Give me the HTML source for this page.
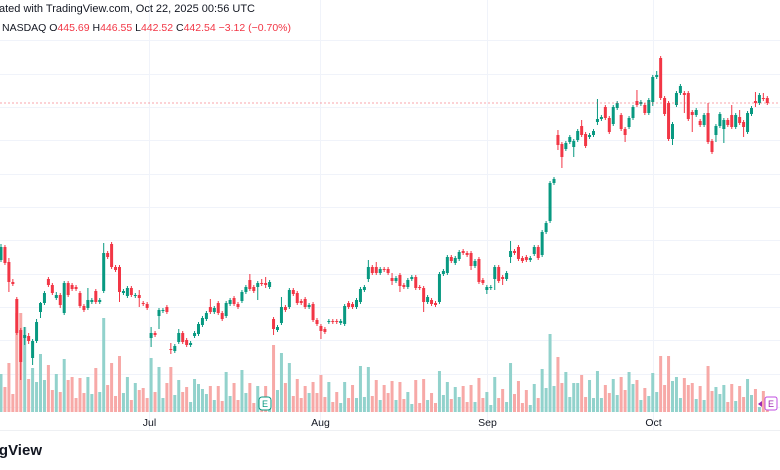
<!DOCTYPE html>
<html><head><meta charset="utf-8">
<style>
html,body{margin:0;padding:0;background:#fff;width:780px;height:470px;overflow:hidden}
svg{display:block;font-family:"Liberation Sans",sans-serif}
</style></head>
<body>
<svg id="chart" width="780" height="470" viewBox="0 0 780 470">
<g id="grid"></g>
<g id="vol"></g>
<g id="candles"></g>
<line id="priceline" x1="0" x2="780" stroke="#f23645" stroke-opacity="0.45" stroke-dasharray="2,2" stroke-width="1"/>
<line x1="0" x2="780" y1="430.5" y2="430.5" stroke="#eef0f3"/>
<g id="xaxis"></g>
<text x="-1" y="12" font-size="11" fill="#131722">ated with TradingView.com, Oct 22, 2025 00:56 UTC</text>
<text x="2" y="31" font-size="10.5" fill="#131722">NASDAQ  O<tspan fill="#f23645">445.69</tspan>  H<tspan fill="#f23645">446.55</tspan>  L<tspan fill="#f23645">442.52</tspan>  C<tspan fill="#f23645">442.54</tspan>  <tspan fill="#f23645">−3.12 (−0.70%)</tspan></text>
<text x="42" y="455" text-anchor="end" font-size="15" font-weight="bold" fill="#131722">TradingView</text>
<g><rect x="259" y="397" width="12" height="13" rx="3" fill="#fff" stroke="#089981"/><text x="265" y="407" font-size="9" text-anchor="middle" fill="#089981">E</text></g>
<g><rect x="765" y="397" width="12" height="13" rx="2" fill="#fff" stroke="#c04ce0"/><text x="771" y="407" font-size="9" text-anchor="middle" fill="#9c27b0">E</text><path d="M758 404 l4 -3 v6 z" fill="#9c27b0"/></g>
</svg>
<script>
const opens=[394.1,398.0,393.5,387.5,382.4,373.1,370.7,371.3,364.7,369.8,378.5,381.2,388.4,386.6,382.7,383.6,378.2,387.2,386.6,386.0,384.2,380.3,379.7,381.5,384.8,381.5,384.8,396.2,398.9,392.0,392.0,384.2,383.3,385.7,383.3,383.6,381.2,380.9,370.7,372.2,377.3,378.8,380.0,367.4,366.8,369.5,372.2,370.1,368.6,371.3,371.9,374.6,376.4,380.0,378.5,381.2,378.2,377.3,380.9,382.7,380.9,381.8,384.5,388.1,386.0,386.0,387.2,387.2,386.0,376.4,373.1,375.2,380.0,380.0,385.1,384.2,381.8,382.4,380.0,380.9,376.1,374.3,373.4,375.5,375.8,375.8,375.2,374.9,381.2,380.9,380.0,381.5,385.1,388.4,392.0,392.0,390.2,391.4,391.4,388.7,387.8,389.6,386.6,386.0,388.4,389.0,386.0,385.7,381.5,382.1,381.2,381.5,389.9,390.2,395.0,393.2,394.4,396.8,396.2,396.2,392.3,394.4,388.1,385.1,385.7,388.4,392.0,389.0,388.4,395.0,396.8,398.0,394.7,395.0,394.1,395.9,398.0,395.6,402.5,405.8,417.2,431.6,428.9,427.4,429.5,428.0,430.1,434.3,431.9,431.0,431.6,435.5,436.4,440.0,436.7,434.9,439.7,437.6,433.4,434.0,436.7,441.8,440.9,440.6,438.2,441.5,449.0,454.7,442.7,441.2,430.4,440.6,444.2,444.2,444.2,438.5,437.6,435.8,434.6,438.2,429.8,431.6,434.3,433.4,436.1,437.6,434.0,437.0,435.5,432.5,437.9,441.8,441.2,442.7,442.7];
const highs=[398.9,398.6,394.7,388.4,383.0,373.7,374.0,372.2,370.4,376.4,381.5,384.8,389.0,387.2,384.5,384.2,387.8,387.8,387.2,386.6,384.8,380.9,385.7,382.7,385.4,382.7,399.2,396.8,399.5,392.6,392.6,385.4,386.3,386.3,384.2,385.1,381.8,381.5,374.0,372.8,379.7,379.7,380.6,369.2,368.9,373.4,372.8,370.7,369.8,372.8,375.5,377.3,378.8,382.4,380.3,381.8,378.8,381.8,382.7,383.3,381.5,385.1,386.6,389.9,386.6,387.8,388.4,389.0,388.1,377.0,374.6,383.0,380.6,385.7,385.7,384.8,382.4,383.0,381.2,381.5,376.7,374.9,374.0,376.4,376.4,376.4,376.4,380.9,381.8,381.5,382.7,386.0,386.6,394.1,392.6,393.5,392.0,392.0,392.0,390.2,389.3,390.2,387.2,388.7,389.6,389.6,386.6,386.3,383.6,382.7,381.8,390.5,391.4,395.6,395.6,395.3,397.1,397.4,396.8,396.8,394.4,395.0,388.7,386.6,386.6,392.6,392.6,389.6,390.8,399.8,397.4,398.6,395.3,395.6,395.3,398.6,398.6,403.1,405.8,417.8,419.0,433.1,429.5,429.8,431.6,430.4,433.4,436.1,432.5,432.2,433.4,442.4,437.6,440.6,437.3,440.6,441.8,438.2,434.0,437.3,440.6,445.1,442.1,441.2,442.7,449.6,450.8,455.3,443.3,441.8,435.5,444.8,446.9,444.8,444.8,439.1,439.7,436.4,438.2,441.2,430.4,434.9,438.5,436.7,436.7,440.6,438.2,439.1,436.1,438.8,440.3,444.5,444.2,444.2,443.3];
const lows=[393.5,392.6,384.5,386.3,371.6,358.1,368.6,368.9,362.6,369.2,376.7,380.6,386.0,383.6,382.1,379.7,377.6,383.0,384.8,384.8,379.7,378.5,379.1,380.9,380.9,380.9,384.2,394.4,391.4,390.5,381.5,383.6,382.7,383.0,382.7,380.0,380.3,379.1,368.0,371.0,373.4,378.2,377.9,365.9,366.2,368.9,368.9,368.0,368.0,370.7,371.3,374.0,375.8,377.9,377.9,377.6,375.8,376.7,380.3,380.3,379.4,381.2,383.9,384.8,384.2,382.1,386.3,385.7,385.4,371.6,372.5,374.6,378.5,379.4,383.3,380.6,380.6,379.4,379.4,375.5,374.3,370.4,371.9,374.9,374.9,374.9,374.6,374.3,379.4,379.4,379.4,380.9,384.5,387.5,389.6,389.6,389.6,390.5,389.6,386.6,387.2,384.5,385.4,385.4,387.8,385.1,385.1,378.5,380.9,380.3,380.0,380.9,389.3,389.6,393.2,392.6,393.8,395.6,395.0,391.1,391.7,386.9,386.6,383.9,385.1,385.1,387.2,386.6,387.8,393.2,395.6,393.8,393.2,393.5,393.5,395.3,394.1,395.0,401.9,405.2,416.6,427.1,421.7,426.8,428.9,425.0,429.5,431.0,427.7,430.4,431.0,434.6,435.8,436.1,431.9,434.3,439.1,432.8,429.5,433.4,436.1,440.0,440.3,437.6,437.6,440.3,448.4,442.1,437.3,429.8,428.6,440.0,443.6,438.2,435.8,432.5,437.0,434.0,434.0,428.9,425.9,429.5,433.7,429.2,434.0,433.4,433.4,434.6,431.0,431.9,437.3,440.0,440.6,441.8,440.6];
const closes=[398.0,393.2,387.5,386.9,372.2,363.5,371.6,369.8,369.8,375.5,381.2,384.2,386.6,384.2,383.6,380.6,387.2,383.6,385.4,385.4,380.3,379.1,382.1,382.1,381.5,382.1,396.2,395.0,392.0,391.1,384.5,384.8,385.7,383.6,383.6,382.7,380.9,379.7,372.2,371.6,379.1,379.1,378.5,367.1,368.3,372.2,369.5,368.6,369.2,372.2,374.9,376.7,378.2,378.5,379.7,378.2,376.4,381.2,382.1,380.9,380.0,384.5,386.0,385.4,384.8,387.2,386.9,386.6,387.5,373.4,374.0,380.0,379.1,385.1,383.9,381.2,381.2,380.0,380.6,376.1,374.9,372.8,372.5,375.8,375.5,375.5,375.8,380.3,380.0,380.0,382.1,385.4,386.0,392.0,390.2,390.2,391.4,391.1,390.2,387.8,388.7,386.3,386.0,388.1,389.0,385.7,385.7,381.5,383.0,380.9,380.6,389.9,390.8,395.0,393.8,394.7,396.5,396.2,395.6,392.3,393.8,387.5,387.2,386.0,386.0,392.0,387.8,388.4,390.2,396.8,396.2,394.4,393.8,394.1,394.7,398.0,394.7,402.5,405.2,417.2,418.4,428.6,425.0,429.2,431.0,429.8,432.8,431.6,428.3,431.6,432.8,436.4,437.0,436.7,432.5,440.0,441.2,433.4,431.6,436.7,440.0,440.6,441.5,438.2,442.1,449.0,449.6,442.7,437.9,430.4,434.9,444.2,446.3,443.6,436.4,437.6,439.1,434.6,437.6,429.5,426.5,434.3,437.9,436.1,434.6,434.0,437.6,435.2,434.0,438.2,439.7,441.2,443.6,442.4,441.2];
const volumes=[3.8,2.5,4.9,1.8,9.9,9.9,8.5,3.3,4.4,3.0,5.8,3.2,4.7,2.2,3.8,2.0,5.3,3.2,3.5,1.4,3.4,1.9,3.5,1.8,4.4,2.0,9.4,2.7,4.9,1.6,5.6,1.9,3.5,1.2,2.9,2.2,2.4,1.4,5.4,2.0,4.5,1.4,2.9,4.5,1.7,3.2,2.0,2.5,1.0,3.3,2.8,2.3,1.8,2.6,1.2,2.6,1.1,4.0,1.6,2.9,1.2,4.2,1.9,2.9,0.9,2.6,0.9,2.6,1.4,6.7,2.2,5.9,2.9,4.9,1.6,3.3,1.4,2.6,1.9,3.0,1.9,3.7,1.5,3.0,1.0,2.0,0.9,3.0,1.4,2.7,1.4,4.6,1.5,4.5,1.6,3.2,1.2,2.7,1.9,3.1,1.2,3.0,1.3,2.0,0.8,3.2,0.9,3.3,1.2,1.9,0.9,4.1,1.7,3.0,1.3,2.5,1.5,2.6,1.0,2.7,1.0,3.4,1.4,2.0,0.7,3.5,1.4,2.3,1.0,4.9,1.8,3.1,0.9,2.2,0.7,2.8,1.4,4.3,2.4,7.8,2.6,5.5,2.9,4.0,1.5,2.9,2.9,3.7,1.5,3.2,1.4,4.1,1.4,2.7,1.9,3.3,1.7,3.5,2.2,4.0,2.8,3.2,1.2,2.4,1.6,3.9,2.0,5.6,2.7,5.6,3.1,3.5,1.4,3.4,2.7,2.9,1.3,2.6,1.2,4.6,2.1,2.5,1.8,2.7,1.0,2.8,1.1,2.6,1.5,3.3,1.7,2.3,0.5,2.1,0.2];
const monthLabels=["Jul","Aug","Sep","Oct"];
const monthIndex=[37.5,80.8,123,165];
const priceTicks=[460,450,440,430,420,410,400,390,380,370,360,350];

const NS="http://www.w3.org/2000/svg";
function xAt(i){return 1+i*3.95;}
function yPrice(p){return 107+(440-p)*(1/0.3);}
function yVol(v){return 412-v*10;}
function mk(tag,attrs,parent){const e=document.createElementNS(NS,tag);for(const k in attrs)e.setAttribute(k,attrs[k]);parent.appendChild(e);return e;}

const grid=document.getElementById('grid');
priceTicks.forEach(p=>{
  const y=Math.round(yPrice(p))+0.5;
  const l=mk('line',{x1:0,x2:780,y1:y,y2:y,stroke:'#f0f3fa'},grid);
  
  
});
const xaxis=document.getElementById('xaxis');
monthIndex.forEach((m,k)=>{
  const x=Math.round(xAt(m))+0.5;
  const l=mk('line',{x1:x,x2:x,y1:0,y2:430,stroke:'#f0f3fa'},grid);
  
  
  const t=mk('text',{x:x,y:426,'font-size':'10.5','text-anchor':'middle',fill:'#131722'},xaxis);
  t.textContent=monthLabels[k];
  
  
});

const vg=document.getElementById('vol'),cg=document.getElementById('candles');
for(let i=0;i<closes.length;i++){
  const up=closes[i]>=opens[i];
  const x=xAt(i);
  const vb=mk('rect',{x:x-1.5,y:yVol(volumes[i]),width:3,height:412-yVol(volumes[i]),fill:up?'#92d2cc':'#f7a9a7'},vg);
  
  
  const col=up?'#089981':'#f23645';
  const w=mk('line',{x1:x,x2:x,y1:yPrice(highs[i]),y2:yPrice(lows[i]),stroke:col,'stroke-width':1},cg);
  
  
  const top=yPrice(Math.max(opens[i],closes[i])),bot=yPrice(Math.min(opens[i],closes[i]));
  const b=mk('rect',{x:x-1.5,y:top,width:3,height:Math.max(1,bot-top),fill:col},cg);
  
  
}
const pl=document.getElementById('priceline');
const ly=yPrice(closes[closes.length-1]);
pl.setAttribute('y1',ly);pl.setAttribute('y2',ly);
</script>
</body></html>
